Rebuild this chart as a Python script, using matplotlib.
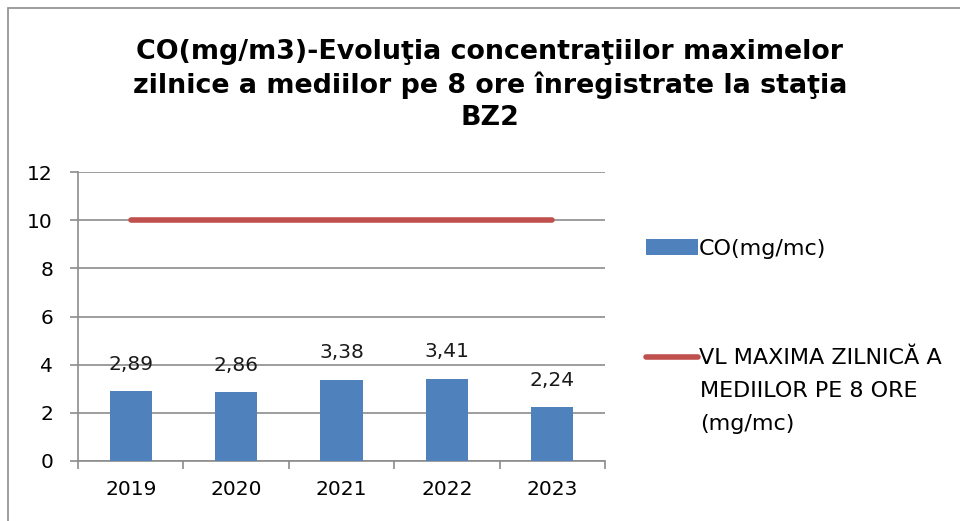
import matplotlib.pyplot as plt
from matplotlib.patches import Rectangle

years = ["2019", "2020", "2021", "2022", "2023"]
co_values = [2.89, 2.86, 3.38, 3.41, 2.24]
limit_values = [10, 10, 10, 10, 10]
value_labels = ["2,89", "2,86", "3,38", "3,41", "2,24"]
bar_label = "CO(mg/mc)"
limit_label = ["VL MAXIMA ZILNICĂ A", "MEDIILOR PE 8 ORE", "(mg/mc)"]

title = ("CO(mg/m3)-Evoluţia concentraţiilor maximelor\n"
         "zilnice a mediilor pe 8 ore înregistrate la staţia\nBZ2")

plt.rcParams['font.family'] = ['DejaVu Sans']

fig = plt.figure(figsize=(9.6, 5.21), dpi=100)
# chart frame
fig.patches.append(Rectangle((8 / 960, -0.01), 1.0, 1.0 - 8 / 521 + 0.01, transform=fig.transFigure,
                             fill=False, edgecolor="#8c8c8c", linewidth=1.2))

ax = fig.add_axes([78 / 960, (521 - 461) / 521, (605 - 78) / 960, (461 - 172) / 521])
x = list(range(len(years)))
bars = ax.bar(x, co_values, width=0.4, color="#4f81bd", zorder=3)
line, = ax.plot(x, limit_values, color="#c0504d", linewidth=4, solid_capstyle="round", zorder=4)
for xi, v, lab in zip(x, co_values, value_labels):
    ax.text(xi, v + 1.12, lab, ha="center", va="center", fontsize=14.5, color="#1a1a1a")

ax.set_xlim(-0.5, len(years) - 0.5)
ax.set_ylim(0, 12)
ax.set_yticks(range(0, 13, 2))
ax.set_xticks(x)
ax.set_xticklabels(years)
ax.set_xticks([i + 0.5 for i in range(-1, len(years))], minor=True)
ax.tick_params(axis="x", which="major", length=0, pad=14, labelsize=14.5)
ax.tick_params(axis="x", which="minor", length=6, color="#8c8c8c", width=1.2)
ax.tick_params(axis="y", length=6, color="#8c8c8c", width=1.2, pad=12, labelsize=14.5)
ax.grid(axis="y", color="#8c8c8c", linewidth=1.2, zorder=0)
for s in ("top", "right"):
    ax.spines[s].set_visible(False)
for s in ("left", "bottom"):
    ax.spines[s].set_color("#8c8c8c")
    ax.spines[s].set_linewidth(1.2)

fig.text(490 / 960, 1 - 85 / 521, title, ha="center", va="center", fontsize=19.4,
         fontweight="bold", linespacing=1.3)

fig.legend([bars, line], [bar_label, limit_label[0]], loc="upper left",
           bbox_to_anchor=(637 / 960, 1 - 230 / 521), frameon=False, fontsize=16,
           handlelength=2.35, handletextpad=0.05, labelspacing=4.0, borderaxespad=0)
fig.text(700 / 960, 1 - 407.5 / 521, "\n".join(limit_label[1:]), ha="left", va="center",
         fontsize=16, linespacing=1.76)

fig.savefig("out.png", dpi=100)
